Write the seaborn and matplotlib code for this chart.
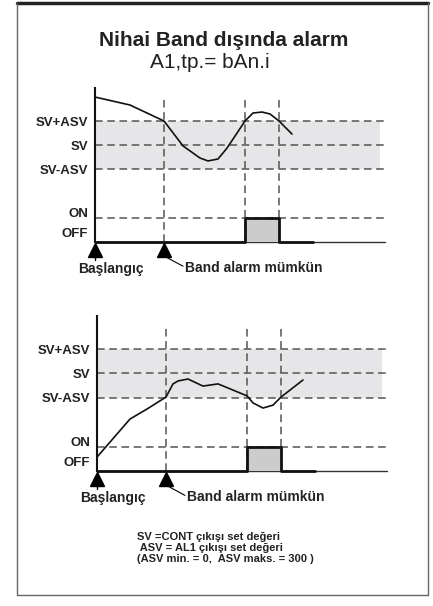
import matplotlib
matplotlib.use("Agg")
import matplotlib.pyplot as plt
import seaborn as sns
from matplotlib.lines import Line2D

# levels (in units of the band step)
level_vals = [0, 1, 3, 4, 5]
level_labels = ["OFF", "ON", "SV-ASV", "SV", "SV+ASV"]
label_pos = [0.38, 1.2, 3, 4, 5]

# time marks
t_enable = 6.9
t_on = 15.0
t_off = 18.4
t_tail = 21.8
t_end = 29.0

# process value, top panel
top_t = [0, 3.5, 6.9, 8.8, 10.5, 11.3, 12.3, 13.2, 14.2, 15.0, 15.8, 16.7, 17.5, 18.4, 19.7]
top_y = [5.99, 5.66, 5.0, 3.97, 3.47, 3.35, 3.43, 3.88, 4.5, 5.0, 5.33, 5.37, 5.29, 5.0, 4.46]

# process value, bottom panel
bot_t = [0, 3.3, 5.0, 6.9, 7.6, 8.1, 9.1, 10.6, 12.1, 15.0, 15.6, 16.6, 17.6, 18.4, 20.6]
bot_y = [0.57, 2.13, 2.54, 3.03, 3.57, 3.69, 3.77, 3.48, 3.57, 3.08, 2.79, 2.58, 2.70, 3.03, 3.73]

# alarm output
alarm_t = [0, t_on, t_on, t_off, t_off, t_tail]
alarm_y = [0, 0, 1, 1, 0, 0]

title = "Nihai Band dışında alarm"
subtitle = "A1,tp.= bAn.i"
notes = ["SV =CONT çıkışı set değeri",
         " ASV = AL1 çıkışı set değeri",
         "(ASV min. = 0,  ASV maks. = 300 )"]

sns.set_theme(style="white")
plt.rcParams["font.family"] = ["Liberation Sans", "DejaVu Sans"]

W, H = 433, 606
fig = plt.figure(figsize=(W / 100, H / 100), dpi=100)

DASH = (0, (5, 3))
GREY = "#555555"


def panel(left_px, off_px, u, pv_t, pv_y):
    ylo, yhi = -1.6, 6.5
    h = (yhi - ylo) * u
    top = off_px - yhi * u
    ax = fig.add_axes([left_px / W, 1 - (top + h) / H, 330 / W, h / H])
    ax.set_xlim(0, 33)
    ax.set_ylim(ylo, yhi)

    ax.fill_between([0, 28.5], 3, 5, color="#e6e6e8", lw=0, zorder=0)
    for lv in level_vals[1:]:
        ax.plot([0, t_end], [lv, lv], color=GREY, lw=1.1, ls=DASH, zorder=1)
    for tv in [t_enable, t_on, t_off]:
        ax.plot([tv, tv], [0, 6.0], color=GREY, lw=1.1, ls=DASH, zorder=1)
    ax.plot([0, t_end], [0, 0], color="#333333", lw=1.0, zorder=2)

    ax.fill_between(alarm_t[2:4], 0, 1, color="#cccccc", lw=0, zorder=2)
    sns.lineplot(x=alarm_t, y=alarm_y, sort=False, estimator=None,
                 color="#111111", lw=2.0, ax=ax, zorder=3)
    sns.lineplot(x=pv_t, y=pv_y, sort=False, estimator=None,
                 color="#111111", lw=1.2, ax=ax, zorder=4)

    # start / enable markers
    ax.plot([0, t_enable], [-0.32, -0.32], ls="none", marker="^", ms=10,
            color="black", clip_on=False, zorder=5)
    ax.plot([0, 0], [-0.55, -0.75], color="black", lw=1, clip_on=False)
    ax.plot([t_enable + 0.1, 8.8], [-0.6, -1.0], color="black", lw=0.8, clip_on=False)
    ax.text(1.6, -1.12, "Başlangıç", ha="center", va="center",
            fontsize=10, fontweight="bold", color="#222222")
    ax.text(9.0, -1.08, "Band alarm mümkün", ha="left", va="center",
            fontsize=10, fontweight="bold", color="#222222")

    ax.set_yticks(label_pos)
    ax.set_yticklabels(level_labels, fontsize=9.5, fontweight="bold", color="#222222")
    ax.tick_params(axis="y", length=0, pad=5)
    ax.set_xticks([])
    for s in ["top", "right", "bottom"]:
        ax.spines[s].set_visible(False)
    ax.spines["left"].set_bounds(0, 6.36)
    ax.spines["left"].set_color("#111111")
    ax.spines["left"].set_linewidth(1.5)
    ax.set_xlabel("")
    ax.set_ylabel("")
    ax.patch.set_alpha(0)
    return ax


panel(95, 242, 24.2, top_t, top_y)
panel(97, 471, 24.4, bot_t, bot_y)

fig.text(224 / W, 1 - 41 / H, title, ha="center", va="center",
         fontsize=15, fontweight="bold", color="#222222")
fig.text(210 / W, 1 - 63 / H, subtitle, ha="center", va="center",
         fontsize=15, color="#222222")
for i, line in enumerate(notes):
    fig.text(137 / W, 1 - (537 + 11 * i) / H, line, ha="left", va="center",
             fontsize=8, fontweight="bold", color="#222222")

# frame
fig.add_artist(Line2D([17 / W, 428 / W], [1 - 3 / H, 1 - 3 / H], color="#222222", lw=2.5))
fig.add_artist(Line2D([17 / W, 17 / W], [1 - 3 / H, 1 - 595 / H], color="#666666", lw=1))
fig.add_artist(Line2D([428 / W, 428 / W], [1 - 3 / H, 1 - 595 / H], color="#666666", lw=1))
fig.add_artist(Line2D([17 / W, 428 / W], [1 - 595 / H, 1 - 595 / H], color="#666666", lw=1))

fig.savefig("out.png", dpi=100)
